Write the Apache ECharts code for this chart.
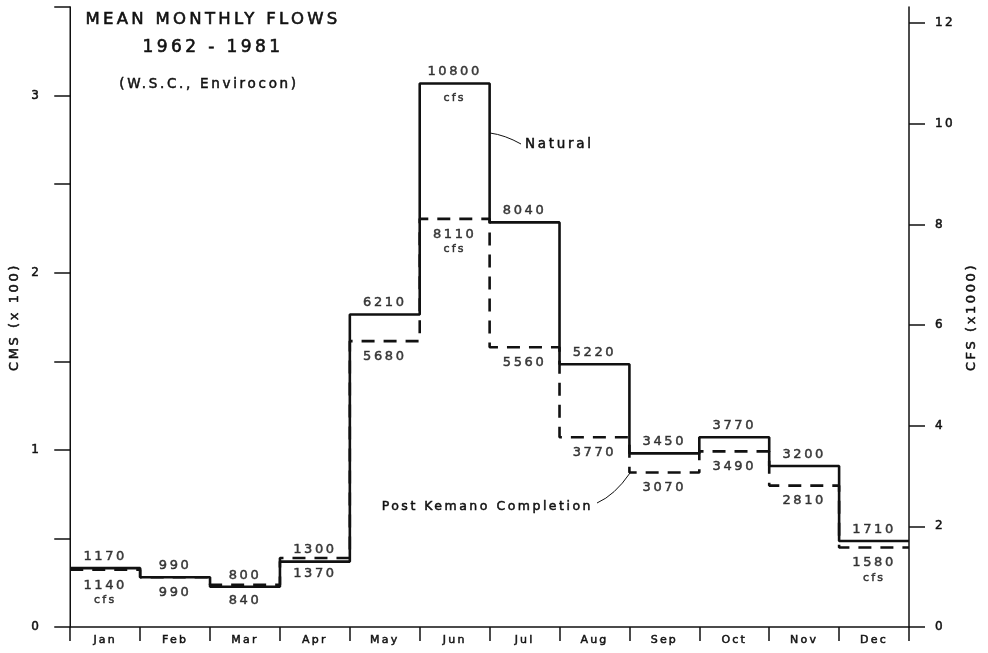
<!DOCTYPE html>
<html>
<head>
<meta charset="utf-8">
<script src="https://cdn.jsdelivr.net/npm/echarts@6/dist/echarts.min.js"></script>
<style>
html,body{margin:0;padding:0;background:#fff;}
#chart{width:988px;height:653px;}
</style>
</head>
<body>
<div id="chart"></div>
<script>
// ---- data ----
const months = ['Jan','Feb','Mar','Apr','May','Jun','Jul','Aug','Sep','Oct','Nov','Dec'];
const natural = [1170, 990, 800, 1300, 6210, 10800, 8040, 5220, 3450, 3770, 3200, 1710];
const postKemano = [1140, 990, 840, 1370, 5680, 8110, 5560, 3770, 3070, 3490, 2810, 1580];
const cmsTicks = [0, 1, 2, 3];            // CMS (x 100)
const cfsTicks = [0, 2, 4, 6, 8, 10, 12]; // CFS (x1000)
const naturalCfsNote = ['Jun'];
const postCfsNote = ['Jan', 'Jun', 'Dec'];

// letter-spaced lettering look
const origFill = CanvasRenderingContext2D.prototype.fillText;
const origStroke = CanvasRenderingContext2D.prototype.strokeText;
function spacing(ctx) {
  const m = /(\d+(?:\.\d+)?)px/.exec(ctx.font);
  const fs = m ? parseFloat(m[1]) : 12;
  try { ctx.letterSpacing = (fs * 0.2).toFixed(2) + 'px'; } catch (e) {}
}
CanvasRenderingContext2D.prototype.fillText = function (t, x, y, w) {
  spacing(this);
  return w === undefined ? origFill.call(this, t, x, y) : origFill.call(this, t, x, y, w);
};
CanvasRenderingContext2D.prototype.strokeText = function (t, x, y, w) {
  spacing(this);
  return w === undefined ? origStroke.call(this, t, x, y) : origStroke.call(this, t, x, y, w);
};

const INK = '#111111';
const FONT = 'DejaVu Sans';
const HEAVY = {textBorderColor: INK, textBorderWidth: 0.5};

function stepData(vals) {
  const d = vals.map((v, i) => [i, v]);
  d.push([vals.length, vals[vals.length - 1]]);
  return d;
}

const chart = echarts.init(document.getElementById('chart'), null, {renderer: 'canvas'});
chart.setOption({
  backgroundColor: '#ffffff',
  animation: false,
  textStyle: {fontFamily: FONT, color: INK},
  grid: {left: 68, right: 79, top: 7, bottom: 26},
  xAxis: [
    {
      type: 'category', data: months, position: 'bottom',
      boundaryGap: true,
      axisLine: {show: true, lineStyle: {color: INK, width: 1.5}},
      axisTick: {show: true, length: 14, lineStyle: {color: INK, width: 1.5}},
      axisLabel: Object.assign({fontSize: 11, color: INK, margin: 8, fontFamily: FONT}, HEAVY),
      splitLine: {show: false}
    },
    {type: 'value', min: 0, max: months.length, show: false}
  ],
  yAxis: [
    {
      type: 'value', min: 0, max: 3.5, interval: 0.5, position: 'left',
      name: 'CMS (x 100)', nameLocation: 'middle', nameGap: 49, nameRotate: 90,
      nameTextStyle: Object.assign({fontSize: 13, color: INK, fontFamily: FONT}, HEAVY),
      axisLine: {show: true, lineStyle: {color: INK, width: 1.5}},
      axisTick: {show: true, length: 16, lineStyle: {color: INK, width: 1.5}},
      axisLabel: Object.assign({customValues: cmsTicks, fontSize: 12, color: INK, margin: 29, fontFamily: FONT}, HEAVY),
      splitLine: {show: false}
    },
    {
      type: 'value', min: 0, max: 12320, position: 'right',
      name: 'CFS (x1000)', nameLocation: 'middle', nameGap: 56, nameRotate: 90,
      nameTextStyle: Object.assign({fontSize: 13, color: INK, fontFamily: FONT}, HEAVY),
      axisLine: {show: true, lineStyle: {color: INK, width: 1.5}},
      axisTick: {show: true, length: 16, customValues: cfsTicks.map(t => t * 1000), lineStyle: {color: INK, width: 1.5}},
      axisLabel: Object.assign({customValues: cfsTicks.map(t => t * 1000), formatter: v => String(v / 1000), fontSize: 12, color: INK, margin: 26, fontFamily: FONT}, HEAVY),
      splitLine: {show: false}
    }
  ],
  series: [
    {
      name: 'Natural', type: 'line', xAxisIndex: 1, yAxisIndex: 1,
      step: 'end', symbol: 'none', data: stepData(natural),
      lineStyle: {color: INK, width: 2.6}, z: 3
    },
    {
      name: 'Post Kemano Completion', type: 'line', xAxisIndex: 1, yAxisIndex: 1,
      step: 'end', symbol: 'none', data: stepData(postKemano),
      lineStyle: {color: INK, width: 2.6, type: [13, 9]}, z: 4
    },
    {
      type: 'scatter', xAxisIndex: 1, yAxisIndex: 1, symbolSize: 0, silent: true,
      data: natural.map((v, i) => [i + 0.5, v]),
      label: Object.assign({show: true, position: 'top', distance: 5, fontSize: 13, color: INK, fontFamily: FONT,
        formatter: p => String(p.value[1])}, HEAVY)
    },
    {
      type: 'scatter', xAxisIndex: 1, yAxisIndex: 1, symbolSize: 0, silent: true,
      data: months.map((m, i) => naturalCfsNote.includes(m) ? [i + 0.5, natural[i]] : null).filter(d => d),
      label: Object.assign({show: true, position: 'bottom', distance: 9, fontSize: 11, color: INK, fontFamily: FONT,
        formatter: 'cfs'}, HEAVY)
    },
    {
      type: 'scatter', xAxisIndex: 1, yAxisIndex: 1, symbolSize: 0, silent: true,
      data: postKemano.map((v, i) => [i + 0.5, v]),
      label: Object.assign({show: true, position: 'bottom', distance: 8, fontSize: 13, color: INK, fontFamily: FONT,
        lineHeight: 15, align: 'center',
        formatter: p => {
          const m = months[p.dataIndex];
          return postCfsNote.includes(m) ? p.value[1] + '\n{c|cfs}' : String(p.value[1]);
        },
        rich: {c: Object.assign({fontSize: 11, color: INK, fontFamily: FONT, lineHeight: 15}, HEAVY)}}, HEAVY)
    }
  ],
  graphic: [
    {type: 'text', style: {text: 'MEAN MONTHLY FLOWS', x: 213, y: 20, align: 'center', verticalAlign: 'middle', font: '16.5px "DejaVu Sans"', fill: INK, stroke: INK, lineWidth: 0.6}},
    {type: 'text', style: {text: '1962 - 1981', x: 213, y: 48, align: 'center', verticalAlign: 'middle', font: '17px "DejaVu Sans"', fill: INK, stroke: INK, lineWidth: 0.6}},
    {type: 'text', style: {text: '(W.S.C., Envirocon)', x: 209, y: 84, align: 'center', verticalAlign: 'middle', font: '13.5px "DejaVu Sans"', fill: INK, stroke: INK, lineWidth: 0.5}},
    {type: 'text', style: {text: 'Natural', x: 525, y: 144, align: 'left', verticalAlign: 'middle', font: '13.5px "DejaVu Sans"', fill: INK, stroke: INK, lineWidth: 0.5}},
    {type: 'bezierCurve', shape: {x1: 490, y1: 133, x2: 521, y2: 144, cpx1: 505, cpy1: 135}, style: {stroke: INK, lineWidth: 1, fill: null}},
    {type: 'text', style: {text: 'Post Kemano Completion', x: 593, y: 507, align: 'right', verticalAlign: 'middle', font: '12.5px "DejaVu Sans"', fill: INK, stroke: INK, lineWidth: 0.5}},
    {type: 'bezierCurve', shape: {x1: 630, y1: 473, x2: 597, y2: 503, cpx1: 615, cpy1: 495}, style: {stroke: INK, lineWidth: 1, fill: null}}
  ]
});
</script>
</body>
</html>
